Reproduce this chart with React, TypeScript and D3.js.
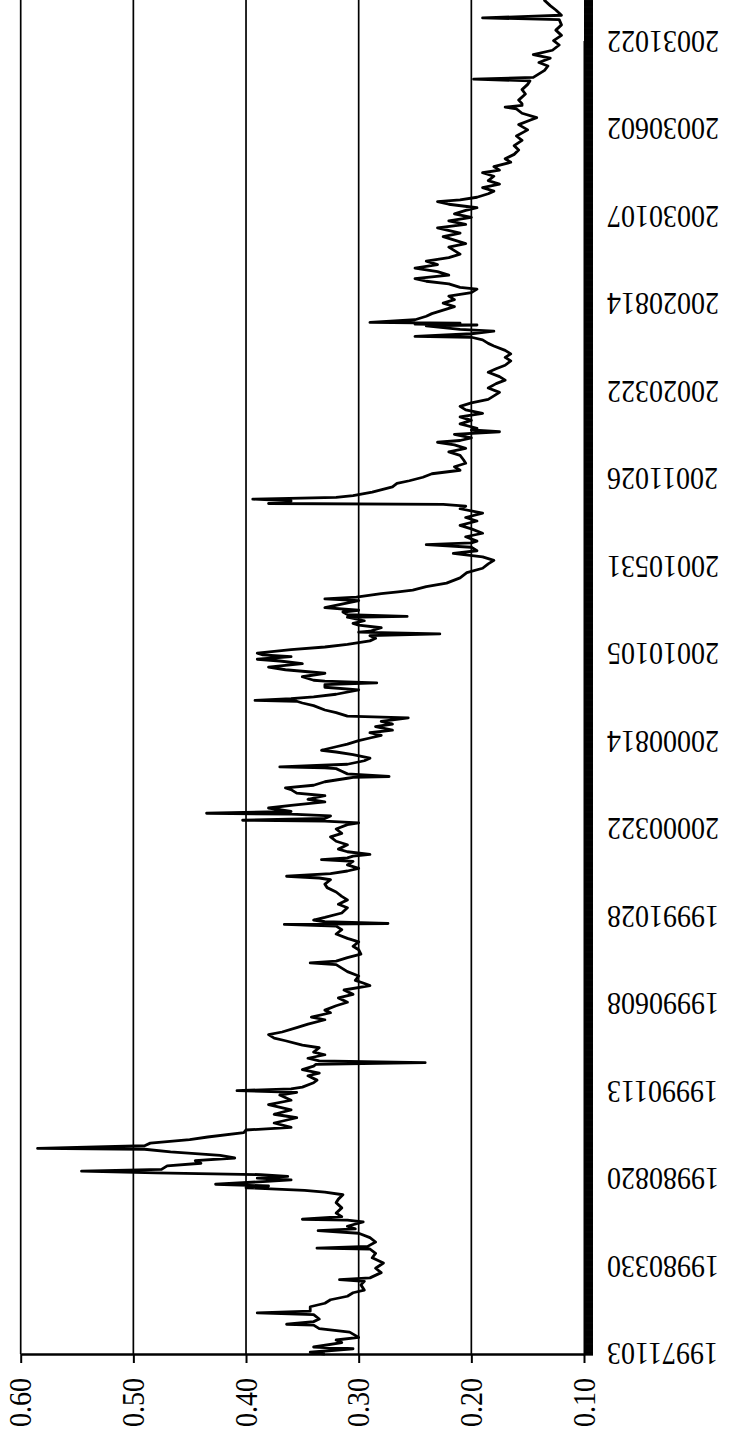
import React, { useEffect, useRef } from "react";
import * as d3 from "d3";

// category labels, one every 100 trading days
const dateLabels = [
  "19971103", "19980330", "19980820", "19990113", "19990608", "19991028",
  "20000322", "20000814", "20010105", "20010531", "20011026", "20020322",
  "20020814", "20030107", "20030602", "20031022"
];
const labelEvery = 100;
const totalDays = 1600;

const valueTicks = [0.6, 0.5, 0.4, 0.3, 0.2, 0.1];

// [trading day index, value]
const series: [number, number][] = [
  [0, 0.33], [2, 0.343], [6, 0.305], [8, 0.34], [13, 0.315], [16, 0.32], [19, 0.3], [25, 0.308],
  [29, 0.335], [33, 0.34], [34, 0.364], [37, 0.34], [40, 0.335], [45, 0.34], [47, 0.39], [49, 0.343],
  [54, 0.343], [58, 0.33], [62, 0.325], [66, 0.31], [70, 0.305], [73, 0.295], [79, 0.298], [83, 0.295],
  [85, 0.317], [87, 0.29], [93, 0.28], [98, 0.285], [104, 0.278], [110, 0.288], [115, 0.285], [120, 0.29],
  [121, 0.337], [123, 0.292], [128, 0.285], [133, 0.29], [138, 0.3], [141, 0.336], [143, 0.303], [146, 0.31],
  [151, 0.296], [153, 0.31], [154, 0.35], [157, 0.315], [161, 0.32], [167, 0.315], [173, 0.32], [177, 0.318],
  [182, 0.314], [185, 0.33], [187, 0.348], [190, 0.4], [192, 0.38], [194, 0.427], [197, 0.385], [199, 0.36],
  [201, 0.39], [203, 0.363], [205, 0.387], [207, 0.48], [209, 0.546], [211, 0.475], [215, 0.47], [218, 0.44],
  [221, 0.445], [224, 0.41], [227, 0.423], [231, 0.467], [234, 0.49], [235, 0.585], [238, 0.49], [241, 0.485],
  [245, 0.45], [248, 0.434], [253, 0.402],
  [256, 0.4], [259, 0.36], [264, 0.375], [270, 0.355], [274, 0.375], [279, 0.36], [285, 0.38], [290, 0.36],
  [296, 0.37], [299, 0.355], [301, 0.408], [303, 0.36], [305, 0.35], [310, 0.34], [313, 0.337], [318, 0.345],
  [321, 0.335], [325, 0.35], [329, 0.34], [331, 0.338], [333, 0.241], [335, 0.335], [338, 0.345], [342, 0.33],
  [345, 0.34], [350, 0.335], [353, 0.35], [358, 0.365], [361, 0.375], [365, 0.38], [368, 0.368], [373, 0.355],
  [377, 0.345], [382, 0.33], [385, 0.342], [390, 0.325], [393, 0.33], [398, 0.32], [402, 0.31], [407, 0.318],
  [411, 0.305], [416, 0.313], [421, 0.29], [424, 0.296], [427, 0.303], [432, 0.3], [437, 0.31], [441, 0.315],
  [445, 0.32], [447, 0.343], [449, 0.32], [453, 0.31], [457, 0.298], [462, 0.3], [466, 0.305], [471, 0.3],
  [475, 0.31], [480, 0.32], [485, 0.315], [489, 0.32], [491, 0.366], [492, 0.274], [494, 0.33],
  [496, 0.34], [499, 0.33], [504, 0.315], [510, 0.31], [514, 0.318], [519, 0.31], [523, 0.315], [528, 0.32],
  [533, 0.328], [537, 0.33], [542, 0.325], [544, 0.335], [546, 0.364], [549, 0.325], [552, 0.31], [555, 0.3],
  [559, 0.31], [563, 0.305], [565, 0.333], [567, 0.31], [569, 0.305], [571, 0.29], [574, 0.31], [577, 0.318],
  [582, 0.31], [586, 0.32], [591, 0.325], [595, 0.315], [600, 0.32], [605, 0.31], [607, 0.3], [609, 0.33],
  [610, 0.403], [612, 0.33], [615, 0.325], [617, 0.36], [618, 0.435], [620, 0.36], [624, 0.38], [627, 0.36],
  [631, 0.33], [634, 0.345], [638, 0.33], [641, 0.355], [645, 0.36], [647, 0.365], [650, 0.34], [654, 0.33],
  [658, 0.31], [659, 0.305], [660, 0.273], [663, 0.31], [666, 0.315], [669, 0.32], [670, 0.33], [671, 0.37],
  [674, 0.31], [678, 0.295], [681, 0.29], [685, 0.305], [688, 0.32], [690, 0.333], [694, 0.32], [697, 0.31],
  [701, 0.3], [704, 0.29], [707, 0.28], [710, 0.29], [713, 0.27], [717, 0.285], [720, 0.27], [723, 0.28],
  [727, 0.256], [729, 0.31], [733, 0.32], [736, 0.33], [741, 0.34], [744, 0.35], [746, 0.355], [747, 0.392],
  [749, 0.36], [751, 0.34], [754, 0.32], [759, 0.3],
  [762, 0.33], [765, 0.33], [767, 0.284], [769, 0.33], [770, 0.34], [774, 0.35], [778, 0.33], [782, 0.365],
  [785, 0.38], [789, 0.35], [792, 0.37], [794, 0.39], [797, 0.36], [799, 0.385], [801, 0.39], [805, 0.36],
  [808, 0.33], [811, 0.31], [815, 0.29], [818, 0.285], [821, 0.29], [823, 0.228], [825, 0.3], [826, 0.29],
  [830, 0.28], [833, 0.3], [835, 0.305], [838, 0.295], [842, 0.31], [843, 0.257], [845, 0.31], [848, 0.314],
  [850, 0.3], [853, 0.33], [857, 0.315], [861, 0.3], [863, 0.33], [865, 0.302], [869, 0.28], [871, 0.265],
  [873, 0.252], [877, 0.24], [881, 0.222], [887, 0.21], [893, 0.204], [898, 0.19], [903, 0.185], [907, 0.18],
  [911, 0.19], [915, 0.216], [918, 0.195], [922, 0.2], [925, 0.24], [927, 0.2], [929, 0.195], [934, 0.205],
  [938, 0.19], [943, 0.2], [947, 0.21], [952, 0.195], [956, 0.205], [961, 0.19], [966, 0.21], [969, 0.205],
  [971, 0.225], [972, 0.38], [975, 0.36], [977, 0.394], [979, 0.32], [981, 0.305], [985, 0.288], [991, 0.27],
  [995, 0.266], [998, 0.255], [1002, 0.243], [1006, 0.235], [1010, 0.21], [1014, 0.215], [1018, 0.205], [1022, 0.207],
  [1027, 0.21], [1031, 0.22], [1035, 0.205], [1039, 0.215], [1042, 0.23], [1044, 0.21], [1047, 0.2], [1051, 0.215],
  [1054, 0.175], [1056, 0.2], [1058, 0.195], [1063, 0.21], [1067, 0.2], [1071, 0.21], [1075, 0.19], [1079, 0.205],
  [1083, 0.21], [1087, 0.2], [1091, 0.185], [1095, 0.18], [1099, 0.175], [1104, 0.185], [1109, 0.178], [1113, 0.17],
  [1117, 0.175], [1122, 0.185], [1126, 0.178], [1130, 0.17], [1135, 0.165], [1139, 0.17], [1143, 0.165], [1147, 0.17],
  [1152, 0.18], [1155, 0.185], [1159, 0.19], [1162, 0.2], [1163, 0.25], [1166, 0.2], [1169, 0.18], [1171, 0.21],
  [1175, 0.24], [1176, 0.195], [1177, 0.25], [1178, 0.21], [1179, 0.29], [1182, 0.25], [1186, 0.24], [1189, 0.235],
  [1193, 0.225], [1197, 0.215], [1201, 0.225], [1205, 0.215], [1209, 0.22], [1213, 0.2], [1217, 0.195], [1219, 0.21],
  [1223, 0.22], [1226, 0.24], [1229, 0.25], [1233, 0.22], [1237, 0.23], [1241, 0.25], [1245, 0.23], [1249, 0.24],
  [1253, 0.22], [1257, 0.21], [1261, 0.215], [1265, 0.22], [1269, 0.205], [1273, 0.215], [1277, 0.225], [1281, 0.21],
  [1287, 0.23], [1291, 0.205], [1295, 0.22], [1299, 0.2], [1303, 0.215], [1307, 0.205], [1310, 0.195], [1314, 0.22],
  [1317, 0.23], [1319, 0.21], [1322, 0.195], [1326, 0.185], [1329, 0.18], [1333, 0.19], [1337, 0.175], [1341, 0.185],
  [1346, 0.18], [1350, 0.19], [1353, 0.175], [1357, 0.18], [1362, 0.165], [1366, 0.17], [1371, 0.162], [1376, 0.158],
  [1381, 0.162], [1387, 0.155], [1392, 0.16], [1399, 0.15], [1405, 0.158], [1410, 0.148], [1413, 0.142], [1418, 0.155],
  [1423, 0.16], [1425, 0.17], [1427, 0.155], [1429, 0.155], [1433, 0.158], [1440, 0.152], [1445, 0.155], [1451, 0.15],
  [1455, 0.148], [1457, 0.198], [1459, 0.145], [1463, 0.14], [1467, 0.135], [1472, 0.132], [1476, 0.14], [1481, 0.13],
  [1485, 0.145], [1490, 0.128], [1496, 0.122], [1501, 0.127], [1507, 0.12], [1513, 0.125], [1519, 0.12], [1525, 0.122],
  [1527, 0.19], [1530, 0.12], [1536, 0.125], [1541, 0.13], [1547, 0.135], [1555, 0.13]
];

const W = 731;
const H = 1443;
const FONT = "'Liberation Serif', 'Times New Roman', serif";

export default function App() {
  const ref = useRef<SVGSVGElement>(null);

  useEffect(() => {
    const svg = d3.select(ref.current);
    svg.selectAll("*").remove();

    // chart is turned on its side: values run right-to-left, days run bottom-to-top
    const x = d3.scaleLinear().domain([0.6, 0.1]).range([20.7, 584]);
    const y = d3.scaleLinear().domain([0, 1500]).range([1354, 41.5]);
    const yTop = y(totalDays);

    // gridlines
    svg.append("g")
      .selectAll("line")
      .data(valueTicks.slice(0, 5))
      .enter().append("line")
      .attr("x1", d => x(d)).attr("x2", d => x(d))
      .attr("y1", y(0)).attr("y2", yTop)
      .attr("stroke", "#000")
      .attr("stroke-width", 1.7);

    // category axis with a tick for every day
    const dayAxis = d3.axisRight(y)
      .tickValues(d3.range(0, totalDays + 1))
      .tickSize(9)
      .tickFormat(() => "");
    const gDay = svg.append("g")
      .attr("transform", `translate(${x(0.1)},0)`)
      .call(dayAxis);
    gDay.select(".domain").attr("stroke-width", 2);
    gDay.selectAll(".tick line").attr("stroke-width", 1.6);

    // value axis
    const valAxis = d3.axisBottom(x)
      .tickValues(valueTicks)
      .tickSize(9)
      .tickSizeOuter(0)
      .tickFormat(() => "");
    const gVal = svg.append("g")
      .attr("transform", `translate(0,${y(0)})`)
      .call(valAxis);
    gVal.select(".domain").attr("stroke-width", 2.4);
    gVal.selectAll(".tick line").attr("stroke-width", 2);

    svg.append("g")
      .selectAll("text")
      .data(valueTicks)
      .enter().append("text")
      .attr("transform", d => `translate(${x(d)},${y(0) + 24}) rotate(-90) scale(1,1.15)`)
      .attr("text-anchor", "end")
      .attr("dominant-baseline", "central")
      .style("font-family", FONT)
      .style("font-size", "28px")
      .text(d => d.toFixed(2));

    svg.append("g")
      .selectAll("text")
      .data(dateLabels)
      .enter().append("text")
      .attr("transform", (d, i) => `translate(${x(0.1) + 23},${y(i * labelEvery)}) rotate(180) scale(1,1.15)`)
      .attr("text-anchor", "end")
      .attr("dominant-baseline", "central")
      .style("font-family", FONT)
      .style("font-size", "28px")
      .text(d => d);

    const line = d3.line<[number, number]>()
      .x(d => x(d[1]))
      .y(d => y(d[0]));

    svg.append("path")
      .datum(series)
      .attr("d", line)
      .attr("fill", "none")
      .attr("stroke", "#000")
      .attr("stroke-width", 2.8)
      .attr("stroke-linejoin", "round");
  }, []);

  return (
    <svg
      ref={ref}
      width={W}
      height={H}
      style={{ position: "absolute", left: 0, top: 0, background: "#fff" }}
    />
  );
}
